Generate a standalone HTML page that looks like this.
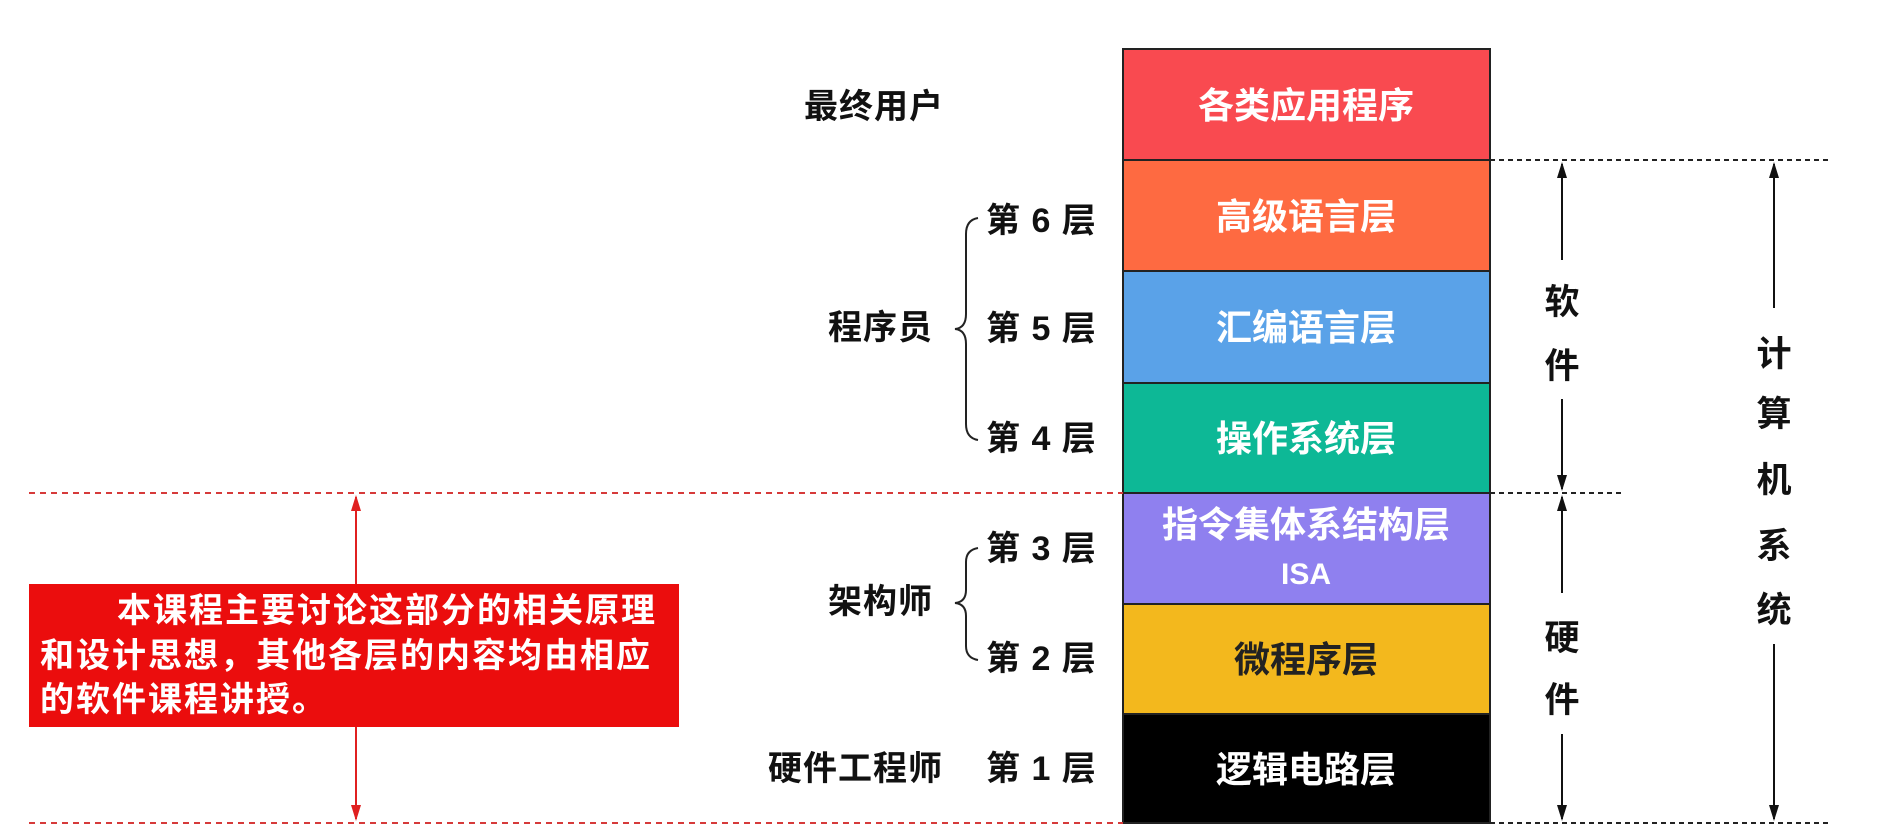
<!DOCTYPE html>
<html><head><meta charset="utf-8"><style>
html,body{margin:0;padding:0;background:#fff;}
svg{display:block;}
text{font-family:"Liberation Sans","Noto Sans CJK SC",sans-serif;font-weight:bold;}
</style></head><body>
<svg width="1882" height="830" viewBox="0 0 1882 830" xmlns="http://www.w3.org/2000/svg">
<!-- layers -->
<rect x="1123" y="49" width="367" height="111" fill="#f94a50"/>
<rect x="1123" y="160" width="367" height="111" fill="#fe6a41"/>
<rect x="1123" y="271" width="367" height="112" fill="#5aa2e8"/>
<rect x="1123" y="383" width="367" height="110" fill="#0db896"/>
<rect x="1123" y="493" width="367" height="111" fill="#8f80ef"/>
<rect x="1123" y="604" width="367" height="110" fill="#f3b81d"/>
<rect x="1123" y="714" width="367" height="109" fill="#000"/>
<g stroke="#222" stroke-width="2" fill="none">
<rect x="1123" y="49" width="367" height="774"/>
<line x1="1123" y1="160" x2="1490" y2="160"/><line x1="1123" y1="271" x2="1490" y2="271"/>
<line x1="1123" y1="383" x2="1490" y2="383"/><line x1="1123" y1="493" x2="1490" y2="493"/>
<line x1="1123" y1="604" x2="1490" y2="604"/><line x1="1123" y1="714" x2="1490" y2="714"/>
</g>
<g font-size="36" fill="#fff" text-anchor="middle">
<text x="1306" y="118">各类应用程序</text>
<text x="1306" y="229">高级语言层</text>
<text x="1306" y="340">汇编语言层</text>
<text x="1306" y="451">操作系统层</text>
<text x="1306" y="537">指令集体系结构层</text>
<text x="1306" y="584" font-size="30">ISA</text>
<text x="1306" y="672" fill="#222">微程序层</text>
<text x="1306" y="782">逻辑电路层</text>
</g>
<!-- left labels -->
<g font-size="34" fill="#111" letter-spacing="1">
<text x="804" y="118">最终用户</text>
<text x="986" y="232">第 6 层</text>
<text x="986" y="340">第 5 层</text>
<text x="986" y="450">第 4 层</text>
<text x="986" y="560">第 3 层</text>
<text x="986" y="670">第 2 层</text>
<text x="986" y="780">第 1 层</text>
<text x="828" y="339">程序员</text>
<text x="828" y="613">架构师</text>
<text x="768" y="780">硬件工程师</text>
</g>
<g stroke="#222" stroke-width="2" fill="none">
<path d="M978,218 Q966,220 966,234 L966,314 Q966,328 955,329 Q966,330 966,344 L966,424 Q966,438 978,440"/>
<path d="M978,548 Q966,550 966,562 L966,590 Q966,602 955,603 Q966,604 966,616 L966,646 Q966,658 978,660"/>
</g>
<!-- black dashed -->
<g stroke="#222" stroke-width="2" stroke-dasharray="5,4">
<line x1="1490" y1="160" x2="1830" y2="160"/>
<line x1="1490" y1="493" x2="1622" y2="493"/>
<line x1="1490" y1="823" x2="1830" y2="823"/>
</g>
<!-- black arrows -->
<g stroke="#111" stroke-width="2">
<line x1="1562" y1="164" x2="1562" y2="260"/><line x1="1562" y1="399" x2="1562" y2="489"/>
<line x1="1562" y1="497" x2="1562" y2="593"/><line x1="1562" y1="734" x2="1562" y2="819"/>
<line x1="1774" y1="164" x2="1774" y2="308"/><line x1="1774" y1="644" x2="1774" y2="819"/>
</g>
<g fill="#111">
<path d="M1562,162 l-5,16 h10z"/><path d="M1562,491 l-5,-16 h10z"/>
<path d="M1562,495 l-5,16 h10z"/><path d="M1562,821 l-5,-16 h10z"/>
<path d="M1774,162 l-5,16 h10z"/><path d="M1774,821 l-5,-16 h10z"/>
</g>
<g font-size="35" fill="#111" text-anchor="middle">
<text x="1562" y="314">软</text><text x="1562" y="378">件</text>
<text x="1562" y="650">硬</text><text x="1562" y="712">件</text>
<text x="1774" y="366">计</text><text x="1774" y="426">算</text><text x="1774" y="492">机</text><text x="1774" y="558">系</text><text x="1774" y="622">统</text>
</g>
<!-- red dashed -->
<g stroke="#d63a3a" stroke-width="2" stroke-dasharray="6,5">
<line x1="29" y1="493" x2="1123" y2="493"/>
<line x1="29" y1="823" x2="1123" y2="823"/>
</g>
<g stroke="#e02020" stroke-width="2">
<line x1="356" y1="497" x2="356" y2="584"/><line x1="356" y1="727" x2="356" y2="819"/>
</g>
<g fill="#e02020"><path d="M356,495 l-5,16 h10z"/><path d="M356,821 l-5,-16 h10z"/></g>
<rect x="29" y="584" width="650" height="143" fill="#eb0d0d"/>
<g font-size="34" fill="#fff" letter-spacing="2">
<text x="117" y="622">本课程主要讨论这部分的相关原理</text>
<text x="40" y="667">和设计思想，其他各层的内容均由相应</text>
<text x="40" y="711">的软件课程讲授。</text>
</g>
</svg>
</body></html>
